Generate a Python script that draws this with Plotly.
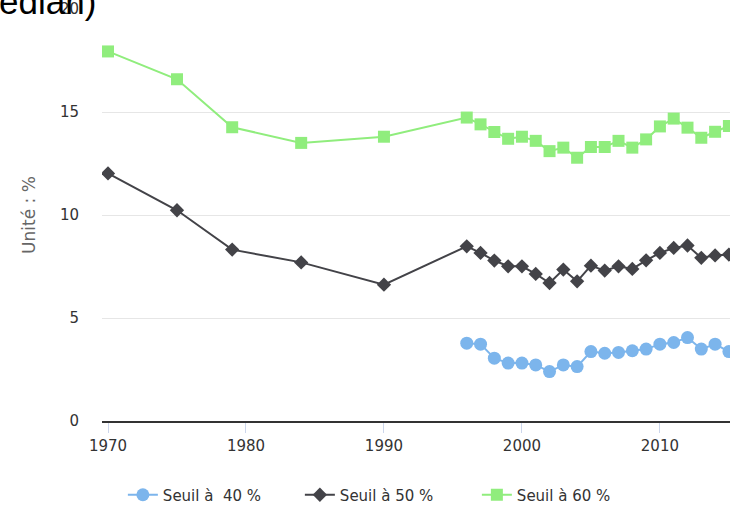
import plotly.graph_objects as go

years_early = [1970, 1975, 1979, 1984, 1990]
years_late = list(range(1996, 2016))

years_all = years_early + years_late

seuil40 = [3.78, 3.73, 3.05, 2.81, 2.81, 2.72, 2.40, 2.72, 2.64, 3.37,
           3.29, 3.33, 3.41, 3.49, 3.73, 3.81, 4.05, 3.49, 3.73, 3.37]

seuil50 = [12.02, 10.23, 8.32, 7.70, 6.62,
           8.48, 8.16, 7.79, 7.51, 7.51, 7.14, 6.70, 7.35, 6.78, 7.54,
           7.30, 7.51, 7.38, 7.80, 8.16, 8.40, 8.52, 7.92, 8.04, 8.08]

seuil60 = [17.94, 16.59, 14.26, 13.50, 13.80,
           14.73, 14.40, 14.03, 13.70, 13.80, 13.60, 13.10, 13.27, 12.78, 13.30,
           13.30, 13.60, 13.27, 13.67, 14.30, 14.68, 14.24, 13.75, 14.04, 14.32]

names = ["Seuil à \u00a040 %", "Seuil à 50 %", "Seuil à 60 %"]
colors = ["#7cb5ec", "#434348", "#90ed7d"]

FONT = "DejaVu Sans"

fig = go.Figure()
fig.add_trace(go.Scatter(
    x=years_late, y=seuil40, name=names[0], mode="lines+markers",
    line=dict(color=colors[0], width=2),
    marker=dict(symbol="circle", size=13, color=colors[0]),
))
fig.add_trace(go.Scatter(
    x=years_all, y=seuil50, name=names[1], mode="lines+markers",
    line=dict(color=colors[1], width=2),
    marker=dict(symbol="diamond", size=11, color=colors[1]),
))
fig.add_trace(go.Scatter(
    x=years_all, y=seuil60, name=names[2], mode="lines+markers",
    line=dict(color=colors[2], width=2),
    marker=dict(symbol="square", size=12, color=colors[2]),
))

fig.update_layout(
    width=730, height=505,
    margin=dict(l=102, r=0, t=9, b=84),
    paper_bgcolor="white", plot_bgcolor="white",
    font=dict(family=FONT, size=15, color="#333333"),
    showlegend=True,
    legend=dict(
        orientation="h", x=0.456, xanchor="center",
        yref="container", y=0.0198, yanchor="middle",
        font=dict(family=FONT, size=15, color="#333333"),
        entrywidth=132, borderwidth=0,
    ),
    xaxis=dict(
        range=[1969.565, 2015.08], dtick=10, tick0=1970,
        showgrid=False, zeroline=False,
        showline=True, linecolor="#333333", linewidth=2,
        ticks="outside", ticklen=10, tickcolor="#ccd6eb", tickwidth=1,
        tickfont=dict(family=FONT, size=15, color="#333333"),
    ),
    yaxis=dict(
        range=[0, 20], dtick=5, tick0=0,
        showgrid=True, gridcolor="#e6e6e6", gridwidth=1,
        zeroline=False, showline=False,
        ticks="", ticklabelstandoff=22,
        tickfont=dict(family=FONT, size=15, color="#333333"),
        title=dict(text="Unité : %", font=dict(family=FONT, size=17, color="#666666"),
                   standoff=19),
    ),
    annotations=[dict(
        text="Taux de pauvreté selon le seuil (en % du revenu médian)",
        xref="paper", yref="paper", x=-0.007, y=1.0177,
        xanchor="right", yanchor="middle", showarrow=False,
        font=dict(family="Liberation Sans", size=35, color="#000000"),
    )],
)

fig.write_html("out.html", config={"displayModeBar": False},
               post_script="document.body.style.margin='0';")
